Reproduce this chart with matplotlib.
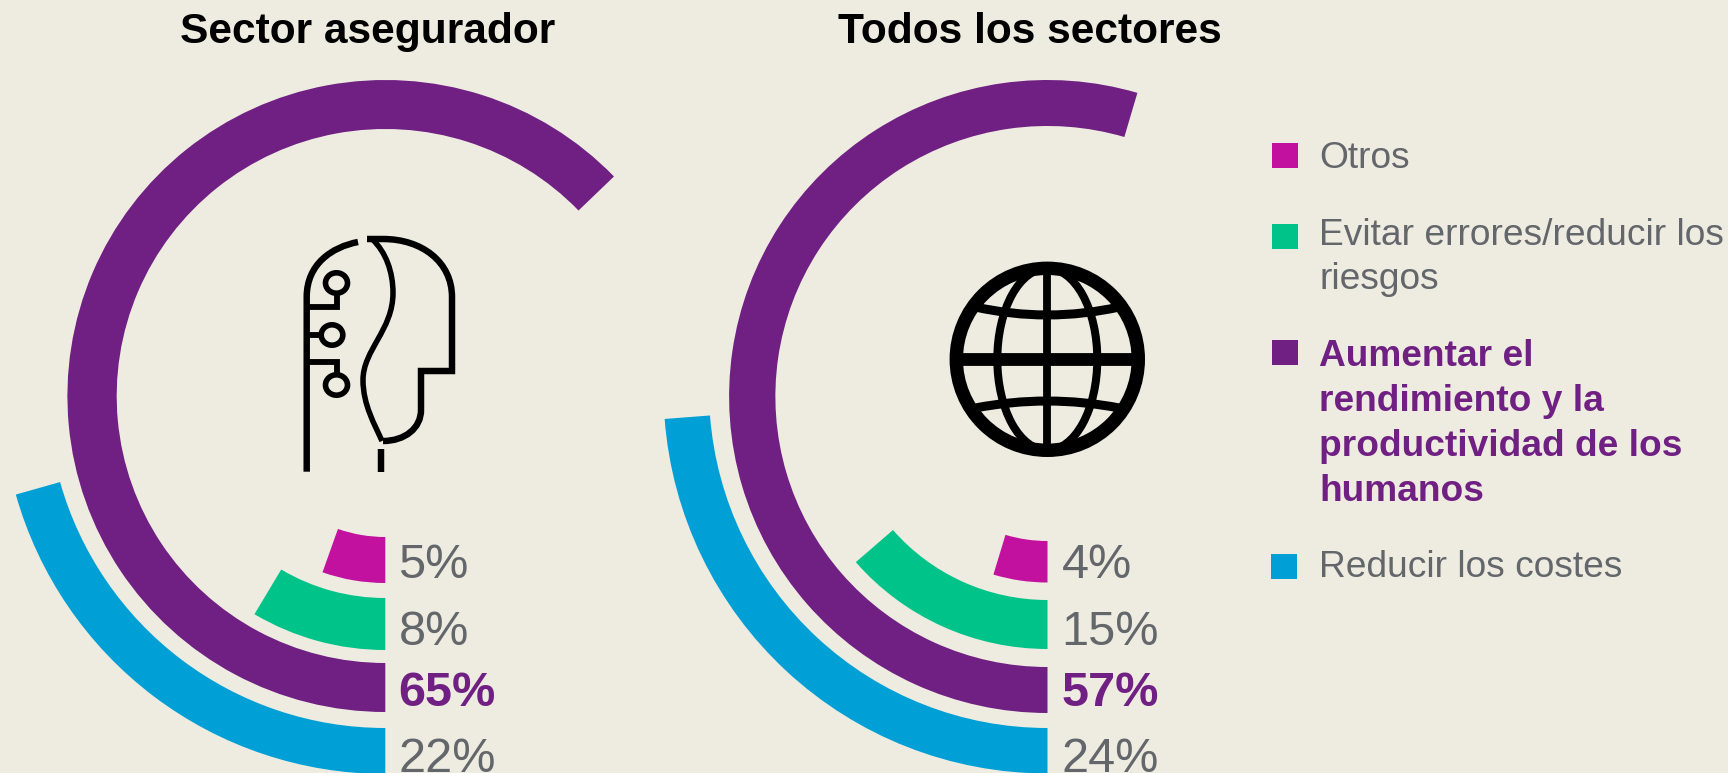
import matplotlib
matplotlib.use("Agg")
import numpy as np
import matplotlib.pyplot as plt
from matplotlib.path import Path
from matplotlib.patches import PathPatch, Ellipse, Rectangle

W, H = 1728, 773
BG = "#EEECE1"
GRAY = "#63666A"
PURPLE = "#702082"
MAGENTA = "#C2109F"
GREEN = "#00C389"
BLUE = "#00A0D6"

# Data
ring_colors = [MAGENTA, GREEN, PURPLE, BLUE]
sector_title = "Sector asegurador"
sector_values = [5, 8, 65, 22]
sector_sweep_deg = [19.5, 30.8, 226.0, 74.2]
todos_title = "Todos los sectores"
todos_values = [4, 15, 57, 24]
todos_sweep_deg = [16.8, 49.0, 196.4, 85.6]
sector_inner = [141, 202, 267, 338]
sector_outer = [187, 254, 316, 384]
todos_inner = [144.5, 203.5, 270.5, 338.5]
todos_outer = [186, 252.5, 316.5, 384]
label_baselines = [578, 645, 706, 772]

plt.rcParams["font.family"] = ["Liberation Sans", "DejaVu Sans"]
fig = plt.figure(figsize=(W / 100, H / 100), dpi=100, facecolor=BG)

RMAX = 400


def ring(cx, cy, r0, r1, sweep, color, stretch=1.0):
    w = 2 * RMAX * stretch
    ax = fig.add_axes([(cx - w / 2) / W, 1 - (cy + RMAX) / H, w / W, 2 * RMAX / H],
                      projection="polar")
    ax.set_aspect("auto")
    ax.set_theta_zero_location("S")
    ax.set_theta_direction(-1)
    ax.set_ylim(0, RMAX)
    ax.axis("off")
    ax.patch.set_alpha(0)
    ax.bar(0, r1 - r0, width=np.radians(sweep), bottom=r0, align="edge", color=color, linewidth=0)


def donut(cx, cy, cy_blue, sweeps, inner, outer):
    for i in range(3):
        ring(cx, cy, inner[i], outer[i], sweeps[i], ring_colors[i], stretch=1.006)
    ring(cx, cy_blue, inner[3], outer[3], sweeps[3], ring_colors[3])


donut(385.3, 396.0, 390.0, sector_sweep_deg, sector_inner, sector_outer)
donut(1047.5, 396.5, 389.5, todos_sweep_deg, todos_inner, todos_outer)

ov = fig.add_axes([0, 0, 1, 1])
ov.set_xlim(0, W)
ov.set_ylim(H, 0)
ov.axis("off")
ov.patch.set_alpha(0)

K = 0.72 * 1.22


def stroke(verts, codes=None, lw=5.3):
    if codes is None:
        codes = [Path.MOVETO] + [Path.LINETO] * (len(verts) - 1)
    ov.add_patch(PathPatch(Path(verts, codes), fc="none", ec="black", lw=lw * K,
                           capstyle="butt", joinstyle="miter"))


M, L, C3, C4 = Path.MOVETO, Path.LINETO, Path.CURVE3, Path.CURVE4

# Head icon
stroke([(306.7, 471.7), (306.7, 297), (306.7, 264), (332, 247), (358, 242)], [M, L, C4, C4, C4])
stroke([(367, 239), (383, 239), (422, 239), (452, 262), (452, 297), (452, 371), (421, 371),
        (421, 410), (421, 428), (405, 441), (383, 441)],
       [M, L, C4, C4, C4, L, L, L, C4, C4, C4])
stroke([(372, 239), (386, 252), (393, 272), (393, 293), (393, 330), (363, 350), (363, 380),
        (363, 405), (375, 425), (382, 441)],
       [M, C4, C4, C4, C4, C4, C4, C4, C4, C4], lw=4.5)
stroke([(381, 449), (381, 471.7)])
stroke([(307, 307), (336.5, 307), (336.5, 294)], lw=4.8)
stroke([(307, 335), (322, 335)], lw=4.8)
stroke([(307, 362), (336.5, 362), (336.5, 375)], lw=4.8)
for (x, y, rx) in [(336.5, 283, 11), (332, 335, 10.8), (336.5, 385, 11)]:
    ov.add_patch(Ellipse((x, y), 2 * rx, 2 * 10.2, fc="none", ec="black", lw=4.6 * K))

# Globe icon
gx, gy = 1047.3, 359.3
ov.add_patch(Ellipse((gx, gy), 2 * 91.0, 2 * 91.0, fc="none", ec="black", lw=13.4 * 0.72))
stroke([(gx - 92, gy), (gx + 92, gy)], lw=10.5)
stroke([(gx, gy - 92), (gx, gy + 92)], lw=6.4)
ov.add_patch(Ellipse((gx, gy), 2 * 50, 2 * 91, fc="none", ec="black", lw=6.6 * K))
stroke([(gx - 72, 307), (gx, 323), (gx + 72, 307)], [M, C3, C3], lw=7.4)
stroke([(gx - 72, 408), (gx, 394), (gx + 72, 408)], [M, C3, C3], lw=7.4)

# Text
TITLE_FS = 30.6
PCT_FS = 35.0
LEG_FS = 26.7
fig_text = lambda x, y, s, **k: ov.text(x, y, s, va="baseline", clip_on=False, **k)

fig_text(367.5, 43, sector_title, fontsize=TITLE_FS, fontweight="bold", color="black", ha="center")
fig_text(1030, 43, todos_title, fontsize=TITLE_FS, fontweight="bold", color="black", ha="center")

for x0, vals in [(398.5, sector_values), (1061.5, todos_values)]:
    for i, (v, y) in enumerate(zip(vals, label_baselines)):
        fig_text(x0, y, f"{v}%", fontsize=PCT_FS, color=PURPLE if i == 2 else GRAY,
                 fontweight="bold" if i == 2 else "normal")

legend_boxes = [(1272, 143, MAGENTA), (1272, 224, GREEN), (1272, 340, PURPLE), (1271, 554, BLUE)]
for x, y, c in legend_boxes:
    ov.add_patch(Rectangle((x, y), 26, 25, fc=c, ec="none"))

legend_lines = [
    ("Otros", 168, False), ("Evitar errores/reducir los", 245, False), ("riesgos", 289, False),
    ("Aumentar el", 366, True), ("rendimiento y la", 411, True),
    ("productividad de los", 456, True), ("humanos", 501, True), ("Reducir los costes", 577, False),
]
for s, y, b in legend_lines:
    fig_text(1319, y, s, fontsize=LEG_FS, color=PURPLE if b else GRAY,
             fontweight="bold" if b else "normal")

fig.savefig("out.png", dpi=100, facecolor=BG)
